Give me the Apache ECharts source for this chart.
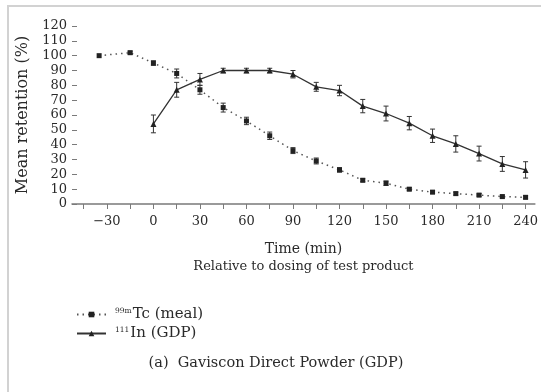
<!DOCTYPE html>
<html>
<head>
<meta charset="utf-8">
<script src="https://cdn.jsdelivr.net/npm/echarts@6/dist/echarts.min.js"></script>
<style>
  html, body { margin: 0; padding: 0; background: #fff; }
  #chart { width: 541px; height: 392px; }
</style>
</head>
<body>
<div id="chart"></div>
<script>
// Gastric retention of the meal marker and the GDP raft marker
const tcTime = [-35, -15, 0, 15, 30, 45, 60, 75, 90, 105, 120, 135, 150, 165, 180, 195, 210, 225, 240];
const tcValues = [100, 102, 95, 88, 77, 65, 56, 46, 36, 29, 23, 16, 14, 10, 8, 7, 6, 5, 4.5];
const tcErrors = [0, 1, 1.5, 3, 3, 3, 2.5, 2.5, 2, 2, 1.5, 1, 1.5, 1, 1, 1, 1, 1, 1];

const inTime = [0, 15, 30, 45, 60, 75, 90, 105, 120, 135, 150, 165, 180, 195, 210, 225, 240];
const inValues = [54, 77, 84, 90, 90, 90, 87.5, 79, 76.5, 66, 61, 54.5, 46, 40.5, 34, 27, 23];
const inErrors = [6, 5, 4, 1.5, 1.5, 1.5, 2.5, 3, 3.5, 4.5, 5, 4.5, 4.5, 5.5, 5, 5, 5.5];

const xTicks = [-45, -30, -15, 0, 15, 30, 45, 60, 75, 90, 105, 120, 135, 150, 165, 180, 195, 210, 225, 240];
const xLabels = [-30, 0, 30, 60, 90, 120, 150, 180, 210, 240];

const serif = 'DejaVu Serif';
const ink = '#2a2a2a';
const axisGrey = '#7a7a7a';

function errorData(times, values, errors) {
  const out = [];
  times.forEach((t, i) => {
    if (errors[i] > 0) out.push([t, values[i] - errors[i], values[i] + errors[i]]);
  });
  return out;
}

function renderErrorBar(params, api) {
  const x = api.value(0);
  const top = api.coord([x, api.value(2)]);
  const bottom = api.coord([x, api.value(1)]);
  const w = 2.5;
  const style = { stroke: '#333', lineWidth: 1 };
  return {
    type: 'group',
    children: [
      { type: 'line', shape: { x1: top[0], y1: top[1], x2: bottom[0], y2: bottom[1] }, style },
      { type: 'line', shape: { x1: top[0] - w, y1: top[1], x2: top[0] + w, y2: top[1] }, style },
      { type: 'line', shape: { x1: bottom[0] - w, y1: bottom[1], x2: bottom[0] + w, y2: bottom[1] }, style }
    ]
  };
}

const chart = echarts.init(document.getElementById('chart'), null, { renderer: 'canvas' });

chart.setOption({
  backgroundColor: '#fff',
  animation: false,
  textStyle: { fontFamily: serif, color: ink },
  grid: { left: 72, right: 4, top: 26, bottom: 188 },
  graphic: [
    {
      type: 'rect',
      shape: { x: 8, y: 6, width: 620, height: 420 },
      style: { fill: 'none', stroke: '#d2d2d2', lineWidth: 2 },
      silent: true,
      z: -1
    },
    {
      type: 'text',
      x: 276,
      y: 363,
      style: {
        text: '(a)  Gaviscon Direct Powder (GDP)',
        fontFamily: serif,
        fontSize: 14.5,
        fill: ink,
        align: 'center',
        verticalAlign: 'middle'
      }
    }
  ],
  legend: {
    orient: 'vertical',
    left: 71,
    top: 302,
    itemWidth: 29,
    itemHeight: 7,
    itemGap: 4,
    selectedMode: false,
    data: ['99mTc (meal)', '111In (GDP)'],
    formatter: function (name) {
      return name === '99mTc (meal)' ? '{s|99m}{t|Tc (meal)}' : '{s|111}{t|In (GDP)}';
    },
    textStyle: {
      padding: [0, 0, 0, 4],
      rich: {
        s: { fontFamily: serif, fontSize: 7.5, color: ink, verticalAlign: 'top', padding: [0, 1, 6, 0] },
        t: { fontFamily: serif, fontSize: 15, color: ink }
      }
    }
  },
  xAxis: {
    type: 'value',
    min: -52.5,
    max: 246,
    axisLine: { show: true, onZero: false, lineStyle: { color: axisGrey, width: 1.5 } },
    axisTick: { show: true, customValues: xTicks, length: 5, lineStyle: { color: axisGrey, width: 1 } },
    axisLabel: {
      customValues: xLabels,
      fontFamily: serif,
      fontSize: 13,
      color: ink,
      margin: 11,
      formatter: v => (v < 0 ? '\u2212' + (-v) : String(v))
    },
    splitLine: { show: false },
    name: '{a|Time (min)}\n{b|Relative to dosing of test product}',
    nameLocation: 'middle',
    nameGap: 36,
    nameTextStyle: {
      rich: {
        a: { fontFamily: serif, fontSize: 14, color: ink, lineHeight: 18 },
        b: { fontFamily: serif, fontSize: 13, color: ink, lineHeight: 18 }
      }
    }
  },
  yAxis: {
    type: 'value',
    min: 0,
    max: 120,
    interval: 10,
    axisLine: { show: false, onZero: false },
    axisTick: { show: true, inside: true, length: 5, lineStyle: { color: axisGrey, width: 1 } },
    axisLabel: { fontFamily: serif, fontSize: 13, color: ink, margin: 5 },
    splitLine: { show: false },
    name: 'Mean retention (%)',
    nameLocation: 'middle',
    nameGap: 40,
    nameTextStyle: { fontFamily: serif, fontSize: 16, color: ink }
  },
  series: [
    {
      name: '99mTc (meal)',
      type: 'line',
      data: tcTime.map((t, i) => [t, tcValues[i]]),
      symbol: 'rect',
      symbolSize: 5,
      itemStyle: { color: '#222' },
      lineStyle: { color: '#555', width: 1.5, type: [1.5, 4] },
      z: 3
    },
    {
      name: '111In (GDP)',
      type: 'line',
      data: inTime.map((t, i) => [t, inValues[i]]),
      symbol: 'triangle',
      symbolSize: 6,
      itemStyle: { color: '#222' },
      lineStyle: { color: '#333', width: 1.3, type: 'solid' },
      z: 3
    },
    {
      name: 'tcError',
      type: 'custom',
      renderItem: renderErrorBar,
      data: errorData(tcTime, tcValues, tcErrors),
      encode: { x: 0, y: [1, 2] },
      z: 2
    },
    {
      name: 'inError',
      type: 'custom',
      renderItem: renderErrorBar,
      data: errorData(inTime, inValues, inErrors),
      encode: { x: 0, y: [1, 2] },
      z: 2
    }
  ]
});
</script>
</body>
</html>
